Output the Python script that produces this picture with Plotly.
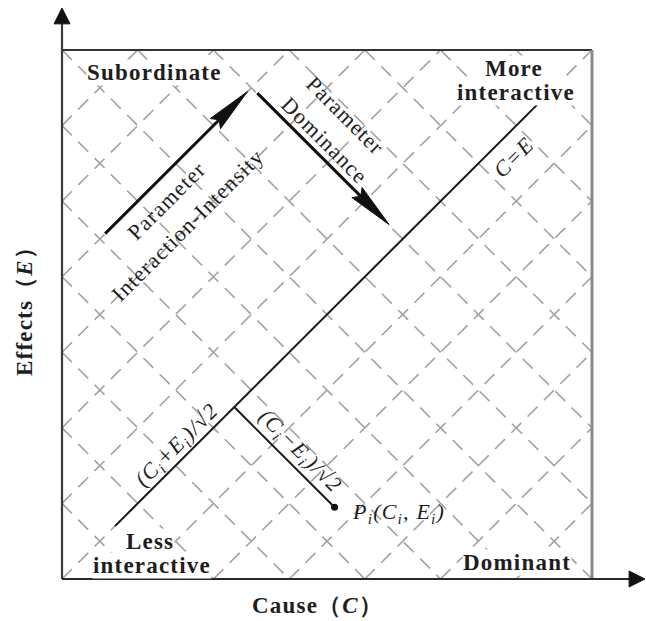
import math
import plotly.graph_objects as go

# Cause/effect plane: both axes run from 0 to 7 units inside the frame
C_MAX = 7
E_MAX = 7

# Diagonal guide lattice: lines C+E=k and C-E=k
SUM_LEVELS = list(range(1, 14))
DIFF_LEVELS = list(range(-6, 7))

# Equal cause/effect line C=E
DIAG_C = [0.7, 6.3]
DIAG_E = [0.7, 6.3]

# Sample parameter P_i = (C_i, E_i)
P_C = 3.6
P_E = 0.95

# Direction arrows (start, end)
INTENSITY_ARROW = [(0.57, 4.57), (2.45, 6.45)]
DOMINANCE_ARROW = [(2.58, 6.43), (4.32, 4.69)]

# Axis extensions beyond the frame (arrow tips)
E_AXIS_TIP = 7.556
C_AXIS_TIP = 7.70

# Pixel layout of the canvas
W, H = 646, 621
FRAME_L, FRAME_R, FRAME_T, FRAME_B = 62, 592, 50, 579
SX = (FRAME_R - FRAME_L) / C_MAX
SY = (FRAME_B - FRAME_T) / E_MAX
X_RANGE = [-FRAME_L / SX, (W - FRAME_L) / SX]
Y_RANGE = [-(H - FRAME_B) / SY, E_MAX + FRAME_T / SY]

FONT = "Liberation Serif"
TEXT = "#1e1e1e"
SP = "letter-spacing:1.2px"


def spaced(s):
    return f"<span style='{SP}'>{s}</span>"


fig = go.Figure()

# --- dashed diagonal lattice -------------------------------------------
gx, gy = [], []
for k in SUM_LEVELS:
    x0, x1 = max(0, k - E_MAX), min(C_MAX, k)
    gx += [x0, x1, None]
    gy += [k - x0, k - x1, None]
for k in DIFF_LEVELS:
    x0, x1 = max(0, k), min(C_MAX, E_MAX + k)
    gx += [x0, x1, None]
    gy += [x0 - k, x1 - k, None]
fig.add_trace(go.Scatter(x=gx, y=gy, mode="lines",
                         line=dict(color="#a2a2a2", width=1.6, dash="14px,9px")))

# --- frame --------------------------------------------------------------
fig.add_trace(go.Scatter(x=[0, C_MAX], y=[E_MAX, E_MAX], mode="lines",
                         line=dict(color="#333333", width=2)))
fig.add_trace(go.Scatter(x=[C_MAX, C_MAX], y=[0, E_MAX], mode="lines",
                         line=dict(color="#8a8a8a", width=3)))

# axes with arrow tips
fig.add_trace(go.Scatter(x=[0, 0], y=[0, E_AXIS_TIP - 0.1], mode="lines",
                         line=dict(color="#3a3a3a", width=2.2)))
fig.add_trace(go.Scatter(x=[0, C_AXIS_TIP - 0.1], y=[0, 0], mode="lines",
                         line=dict(color="#2a2a2a", width=2.2)))


def head(x0, y0, x1, y1, length, half, notch=0.0):
    dx, dy = x1 - x0, y1 - y0
    L = math.hypot(dx, dy)
    ux, uy = dx / L, dy / L
    nx, ny = -uy, ux
    bx, by = x1 - ux * length, y1 - uy * length
    mx, my = x1 - ux * length * (1 - notch), y1 - uy * length * (1 - notch)
    xs = [x1, bx + nx * half, mx, bx - nx * half, x1]
    ys = [y1, by + ny * half, my, by - ny * half, y1]
    return xs, ys


for (x0, y0, x1, y1) in [(0, 0, 0, E_AXIS_TIP), (0, 0, C_AXIS_TIP, 0)]:
    hx, hy = head(x0, y0, x1, y1, 0.21, 0.105)
    fig.add_trace(go.Scatter(x=hx, y=hy, mode="lines", fill="toself",
                             fillcolor="#111111", line=dict(color="#111111", width=1)))

# --- C=E line and projection of P_i ------------------------------------
fig.add_trace(go.Scatter(x=DIAG_C, y=DIAG_E, mode="lines",
                         line=dict(color="#1a1a1a", width=2)))
foot = (P_C + P_E) / 2
fig.add_trace(go.Scatter(x=[foot, P_C], y=[foot, P_E], mode="lines",
                         line=dict(color="#1a1a1a", width=2)))
fig.add_trace(go.Scatter(x=[P_C], y=[P_E], mode="markers",
                         marker=dict(color="#111111", size=7)))

# --- direction arrows ----------------------------------------------------
for (s, e) in [INTENSITY_ARROW, DOMINANCE_ARROW]:
    hx, hy = head(s[0], s[1], e[0], e[1], 0.6, 0.095, notch=0.12)
    L = math.hypot(e[0] - s[0], e[1] - s[1])
    f = (L - 0.5) / L
    fig.add_trace(go.Scatter(x=[s[0], s[0] + (e[0] - s[0]) * f],
                             y=[s[1], s[1] + (e[1] - s[1]) * f], mode="lines",
                             line=dict(color="#111111", width=3)))
    fig.add_trace(go.Scatter(x=hx, y=hy, mode="lines", fill="toself",
                             fillcolor="#111111", line=dict(color="#111111", width=1)))


# --- labels --------------------------------------------------------------
def label(text, x, y, size=22, angle=0, bold=False, italic=False,
          bg=None, xanchor="center"):
    t = spaced(text)
    if italic:
        t = f"<i>{t}</i>"
    if bold:
        t = f"<b>{t}</b>"
    fig.add_annotation(x=x, y=y, xref="x", yref="y", text=t, showarrow=False,
                       textangle=angle, xanchor=xanchor, yanchor="middle",
                       font=dict(family=FONT, size=size, color=TEXT),
                       bgcolor=bg, borderpad=0)


label("Subordinate", 1.228, 6.696, size=23, bold=True, bg="white")
label("More", 5.97, 6.76, size=23, bold=True, bg="white")
label("interactive", 6.0, 6.44, size=23, bold=True, bg="white")
label("Less", 1.16, 0.50, size=23, bold=True, bg="white")
label("interactive", 1.19, 0.18, size=23, bold=True, bg="white")
label("Dominant", 6.01, 0.225, size=23, bold=True, bg="white")

label("Parameter", 1.387, 5.002, angle=-45)
label("Interaction-Intensity", 1.651, 4.684, angle=-45)
label("Parameter", 3.738, 6.127, angle=45)
label("Dominance", 3.474, 5.809, angle=45)

label("C=E", 5.957, 5.584, angle=-45, italic=True)
label("(C<sub>i</sub>+E<sub>i</sub>)/√2", 1.519, 1.760, angle=-45, italic=True)
label("(C<sub>i</sub>−E<sub>i</sub>)/√2", 3.143, 1.681, angle=45, italic=True)
label("P<sub>i</sub>(C<sub>i</sub>, E<sub>i</sub>)", 3.817, 0.873, italic=True,
      xanchor="left")

label("Effects（<i>E</i>）", -0.489, 3.626, size=23, angle=-90, bold=True)
label("Cause（<i>C</i>）", 3.381, -0.344, size=23, bold=True)

fig.update_layout(
    width=W, height=H,
    margin=dict(l=0, r=0, t=0, b=0),
    paper_bgcolor="white", plot_bgcolor="white",
    showlegend=False, hovermode=False,
    xaxis=dict(range=X_RANGE, visible=False, fixedrange=True),
    yaxis=dict(range=Y_RANGE, visible=False, fixedrange=True),
)

fig.write_html("out.html")
